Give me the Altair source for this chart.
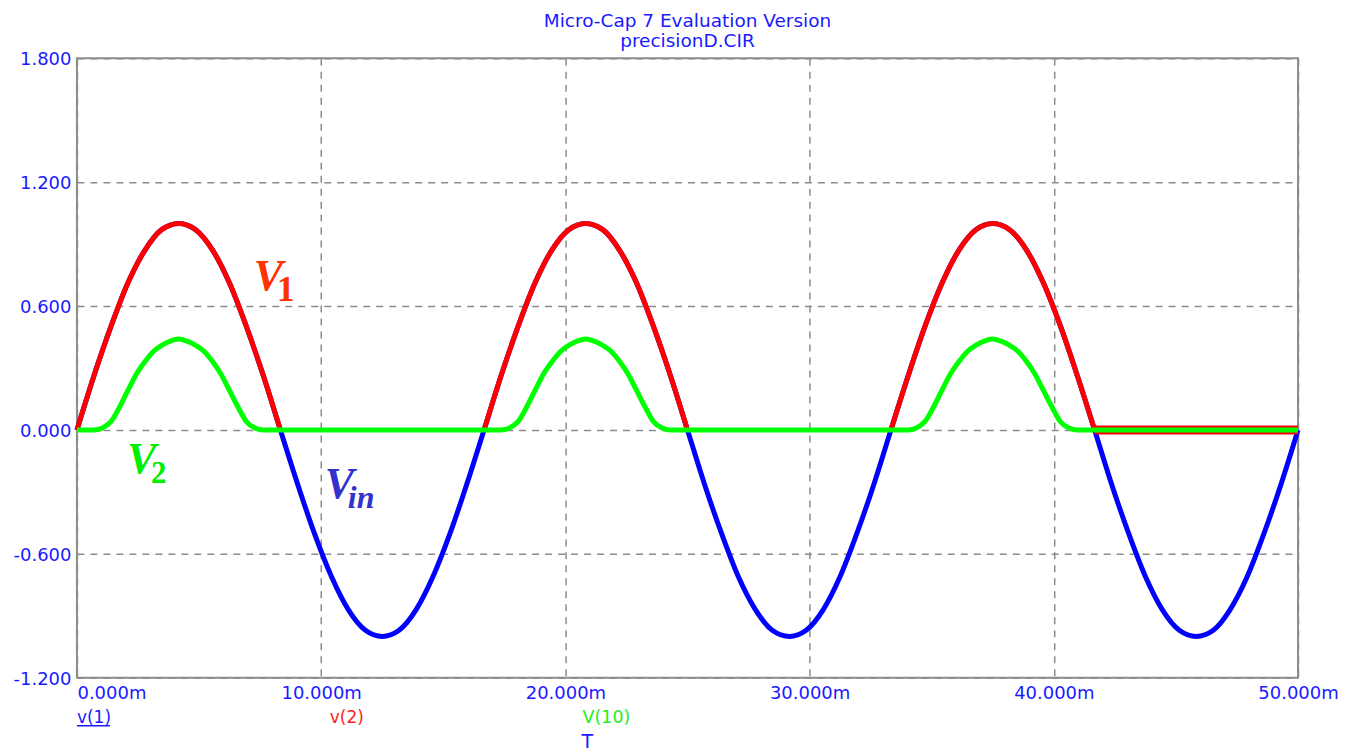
import altair as alt
import pandas as pd

# ---- data (time in ms, volts) ----
t_grid = [0.00, 0.69, 1.39, 2.08, 2.78, 3.47, 4.17, 4.86, 5.56, 6.25, 6.94, 7.64,
          8.33, 9.03, 9.72, 10.42, 11.11, 11.81, 12.50, 13.19, 13.89, 14.58, 15.28, 15.97,
          16.67, 17.36, 18.06, 18.75, 19.44, 20.14, 20.83, 21.53, 22.22, 22.92, 23.61, 24.31,
          25.00, 25.69, 26.39, 27.08, 27.78, 28.47, 29.17, 29.86, 30.56, 31.25, 31.94, 32.64,
          33.33, 34.03, 34.72, 35.42, 36.11, 36.81, 37.50, 38.19, 38.89, 39.58, 40.28, 40.97,
          41.67, 42.36, 43.06, 43.75, 44.44, 45.14, 45.83, 46.53, 47.22, 47.92, 48.61, 49.31,
          50.00]
v1_vals = [0.00, 0.26, 0.50, 0.71, 0.87, 0.97, 1.00, 0.97, 0.87, 0.71, 0.50, 0.26,
           0.00, -0.26, -0.50, -0.71, -0.87, -0.97, -1.00, -0.97, -0.87, -0.71, -0.50, -0.26,
           0.00, 0.26, 0.50, 0.71, 0.87, 0.97, 1.00, 0.97, 0.87, 0.71, 0.50, 0.26,
           0.00, -0.26, -0.50, -0.71, -0.87, -0.97, -1.00, -0.97, -0.87, -0.71, -0.50, -0.26,
           0.00, 0.26, 0.50, 0.71, 0.87, 0.97, 1.00, 0.97, 0.87, 0.71, 0.50, 0.26,
           0.00, -0.26, -0.50, -0.71, -0.87, -0.97, -1.00, -0.97, -0.87, -0.71, -0.50, -0.26,
           0.00]

v2_t = [0.00, 0.69, 1.39, 2.08, 2.78, 3.47, 4.17, 4.86, 5.56, 6.25, 6.94, 7.64, 8.33,
        16.67, 17.36, 18.06, 18.75, 19.44, 20.14, 20.83, 21.53, 22.22, 22.92, 23.61, 24.31, 25.00,
        33.33, 34.03, 34.72, 35.42, 36.11, 36.81, 37.50, 38.19, 38.89, 39.58, 40.28, 40.97, 41.67]
v2_vals = [0.00, 0.26, 0.50, 0.71, 0.87, 0.97, 1.00, 0.97, 0.87, 0.71, 0.50, 0.26, 0.00,
           0.00, 0.26, 0.50, 0.71, 0.87, 0.97, 1.00, 0.97, 0.87, 0.71, 0.50, 0.26, 0.00,
           0.00, 0.26, 0.50, 0.71, 0.87, 0.97, 1.00, 0.97, 0.87, 0.71, 0.50, 0.26, 0.00]
v2_seg = ["a"] * 13 + ["b"] * 13 + ["c"] * 13
v2_tail_t = [41.67, 50.00]
v2_tail_vals = [0.00, 0.00]

v10_t = [0.00, 0.69, 1.04, 1.39, 1.74, 2.08, 2.43, 2.78, 3.13, 3.47, 3.82, 4.17,
         4.51, 4.86, 5.21, 5.56, 5.90, 6.25, 6.60, 6.94, 7.29, 7.64,
         16.67, 17.36, 17.71, 18.06, 18.41, 18.75, 19.10, 19.45, 19.80, 20.14, 20.49, 20.84,
         21.18, 21.53, 21.88, 22.23, 22.57, 22.92, 23.27, 23.61, 23.96, 24.31,
         33.33, 34.02, 34.37, 34.72, 35.07, 35.41, 35.76, 36.11, 36.46, 36.80, 37.15, 37.50,
         37.84, 38.19, 38.54, 38.89, 39.23, 39.58, 39.93, 40.27, 40.62, 40.97,
         50.00]
v10_vals = [0.00, 0.00, 0.01, 0.04, 0.11, 0.19, 0.27, 0.33, 0.38, 0.41, 0.43, 0.44,
            0.43, 0.41, 0.38, 0.33, 0.27, 0.19, 0.11, 0.04, 0.01, 0.00,
            0.00, 0.00, 0.01, 0.04, 0.11, 0.19, 0.27, 0.33, 0.38, 0.41, 0.43, 0.44,
            0.43, 0.41, 0.38, 0.33, 0.27, 0.19, 0.11, 0.04, 0.01, 0.00,
            0.00, 0.00, 0.01, 0.04, 0.11, 0.19, 0.27, 0.33, 0.38, 0.41, 0.43, 0.44,
            0.43, 0.41, 0.38, 0.33, 0.27, 0.19, 0.11, 0.04, 0.01, 0.00,
            0.00]

x_ticks = [0, 10, 20, 30, 40, 50]
y_ticks = [-1.2, -0.6, 0.0, 0.6, 1.2, 1.8]

ann_t = [7.24, 2.05, 10.15]
ann_v = [0.677, -0.208, -0.329]
ann_txt = ["V", "V", "V"]
ann_col = ["#ff3300", "#00ee00", "#3333cc"]
sub_t = [8.18, 3.03]
sub_v = [0.624, -0.256]
sub_txt = ["1", "2"]
sub_col = ["#ff3300", "#00ee00"]
sub_size = [36, 31]
in_t = [11.09]
in_v = [-0.377]
in_txt = ["in"]

# ---- tables ----
blue = pd.DataFrame({"t": t_grid, "v": v1_vals})
red = pd.DataFrame({"t": v2_t, "v": v2_vals, "seg": v2_seg})
red_tail = pd.DataFrame({"t": v2_tail_t, "v": v2_tail_vals})
green = pd.DataFrame({"t": v10_t, "v": v10_vals})
ann = pd.DataFrame({"t": ann_t, "v": ann_v, "txt": ann_txt, "col": ann_col})
subs = pd.DataFrame({"t": sub_t, "v": sub_v, "txt": sub_txt, "col": sub_col, "sz": sub_size})
ins = pd.DataFrame({"t": in_t, "v": in_v, "txt": in_txt})

LABEL_BLUE = "#1a1aff"

X = alt.X("t:Q", scale=alt.Scale(domain=[0, 50], nice=False),
          axis=alt.Axis(values=x_ticks, title=None, grid=True, domain=False, ticks=False,
                        labelExpr="format(datum.value, '.3f') + 'm'",
                        labelAlign=alt.expr("datum.value == 0 ? 'left' : 'center'"),
                        labelFlush=False, labelPadding=7))
Y = alt.Y("v:Q", scale=alt.Scale(domain=[-1.2, 1.8], nice=False),
          axis=alt.Axis(values=y_ticks, title=None, grid=True, domain=False, ticks=False,
                        labelExpr="(datum.value < 0 ? '-' : '') + format(abs(datum.value), '.3f')",
                        labelPadding=6, labelOffset=1.5))

blue_line = alt.Chart(blue).mark_line(color="#0000ff", strokeWidth=5, interpolate="monotone",
                                      strokeJoin="round").encode(x=X, y=Y)
red_line = alt.Chart(red).mark_line(color="#ff0000", strokeWidth=5, interpolate="monotone",
                                    strokeJoin="round").encode(x=X, y=Y, detail="seg:N")
red_tail_line = alt.Chart(red_tail).mark_line(color="#ff0000", strokeWidth=9).encode(x=X, y=Y)
green_line = alt.Chart(green).mark_line(color="#00ff00", strokeWidth=5, interpolate="monotone",
                                        strokeJoin="round").encode(x=X, y=Y)

ann_text = alt.Chart(ann).mark_text(font="Liberation Serif", fontWeight="bold", fontStyle="italic",
                                    fontSize=44, align="left", baseline="alphabetic").encode(
    x="t:Q", y="v:Q", text="txt:N", color=alt.Color("col:N", scale=None))
sub_text = alt.Chart(subs).mark_text(font="Liberation Serif", fontWeight="bold",
                                     align="left", baseline="alphabetic").encode(
    x="t:Q", y="v:Q", text="txt:N", color=alt.Color("col:N", scale=None),
    size=alt.Size("sz:Q", scale=None))
in_text = alt.Chart(ins).mark_text(font="Liberation Serif", fontWeight="bold", fontStyle="italic",
                                   fontSize=32, align="left", baseline="alphabetic",
                                   color="#3333cc").encode(x="t:Q", y="v:Q", text="txt:N")

def label(txt, x, y, color, size, align="left"):
    return alt.Chart(pd.DataFrame({"txt": [txt]})).mark_text(
        font="DejaVu Sans", fontSize=size, color=color, align=align, baseline="alphabetic"
    ).encode(x=alt.value(x), y=alt.value(y), text="txt:N")

title1 = label("Micro-Cap 7 Evaluation Version", 611, -31, LABEL_BLUE, 18.5, "center")
title2 = label("precisionD.CIR", 611, -11, LABEL_BLUE, 18.5, "center")
leg1 = label("v(1)", 0, 665, LABEL_BLUE, 17)
leg2 = label("v(2)", 253, 665, "#ff2020", 17)
leg3 = label("V(10)", 506, 665, "#22ee22", 17.5)
legT = label("T", 505, 690, LABEL_BLUE, 19)
underline = alt.Chart(pd.DataFrame({"a": [0]})).mark_rule(color=LABEL_BLUE, strokeWidth=1.5).encode(
    x=alt.value(0), x2=alt.value(33), y=alt.value(668))

chart = alt.layer(
    blue_line, red_line, red_tail_line, green_line,
    ann_text, sub_text, in_text,
    title1, title2, leg1, leg2, leg3, legT, underline
).properties(
    width=1222, height=620,
    autosize=alt.AutoSizeParams(type="none"),
    padding={"left": 69, "top": 50, "right": 42, "bottom": 74},
    background="white",
).configure_view(
    stroke="#8c8c8c", strokeWidth=2
).configure_axis(
    gridColor="#8c8c8c", gridDash=[7, 6], gridWidth=1.5, gridOpacity=1,
    labelColor=LABEL_BLUE, labelFont="DejaVu Sans", labelFontSize=18
)

chart.save("out.html", embed_options={"renderer": "svg", "actions": False})
